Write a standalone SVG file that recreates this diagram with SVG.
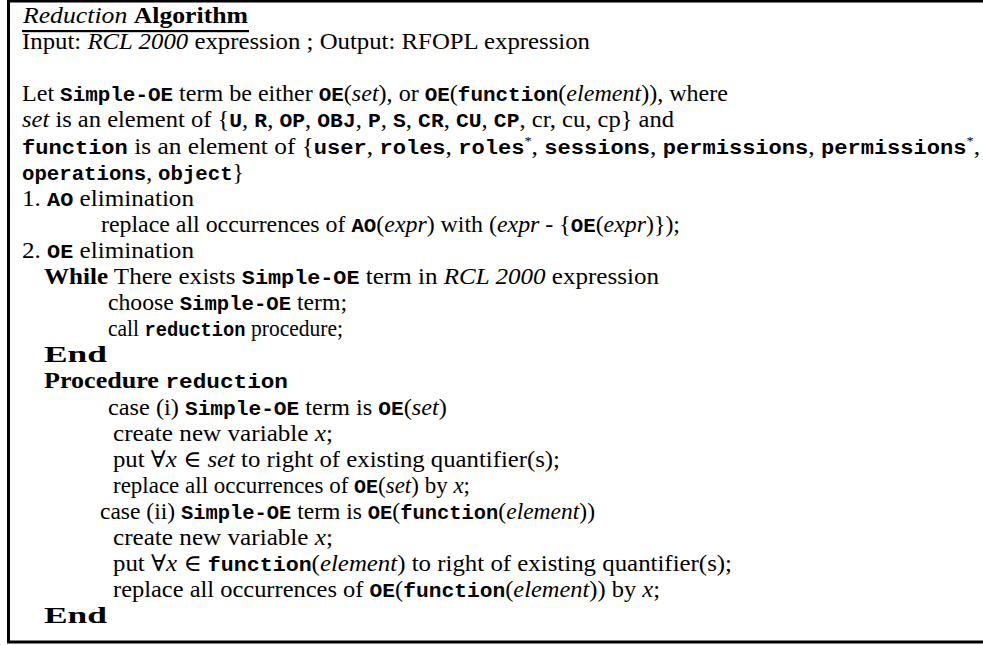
<svg xmlns="http://www.w3.org/2000/svg" width="983" height="645" viewBox="0 0 983 645">
<style>
text{font-family:"Liberation Serif","DejaVu Serif",serif;font-size:23px;fill:#000}
.i{font-style:italic}
.b{font-weight:bold}
.tt{font-family:"Liberation Mono","DejaVu Sans Mono",monospace;font-size:20px;font-weight:bold}
.sup{font-size:13px}
</style>
<rect x="8.5" y="1" width="1000" height="641" fill="#fff" stroke="#000" stroke-width="3"/>
<g id="title">
<text x="23" y="23" textLength="225" lengthAdjust="spacingAndGlyphs"><tspan class="i">Reduction</tspan> <tspan class="b">Algorithm</tspan></text>
<rect x="22" y="30" width="227" height="2.2" fill="#000"/>
<text x="22" y="49.1" textLength="568" lengthAdjust="spacingAndGlyphs">Input: <tspan class="i">RCL 2000</tspan> expression ; Output: RFOPL expression</text>
</g>
<g id="definitions">
<text x="22" y="101.3" textLength="706" lengthAdjust="spacingAndGlyphs">Let <tspan class="tt">Simple-OE</tspan> term be either <tspan class="tt">OE</tspan>(<tspan class="i">set</tspan>), or <tspan class="tt">OE</tspan>(<tspan class="tt">function</tspan>(<tspan class="i">element</tspan>)), where</text>
<text x="22" y="127.4" textLength="652" lengthAdjust="spacingAndGlyphs"><tspan class="i">set</tspan> is an element of {<tspan class="tt">U</tspan>, <tspan class="tt">R</tspan>, <tspan class="tt">OP</tspan>, <tspan class="tt">OBJ</tspan>, <tspan class="tt">P</tspan>, <tspan class="tt">S</tspan>, <tspan class="tt">CR</tspan>, <tspan class="tt">CU</tspan>, <tspan class="tt">CP</tspan>, cr, cu, cp} and</text>
<text x="22" y="153.5" textLength="958" lengthAdjust="spacingAndGlyphs"><tspan class="tt">function</tspan> is an element of {<tspan class="tt">user</tspan>, <tspan class="tt">roles</tspan>, <tspan class="tt">roles</tspan><tspan class="sup" dy="-9">*</tspan><tspan dy="9">,</tspan> <tspan class="tt">sessions</tspan>, <tspan class="tt">permissions</tspan>, <tspan class="tt">permissions</tspan><tspan class="sup" dy="-9">*</tspan><tspan dy="9">,</tspan></text>
<text x="22" y="179.6" textLength="222" lengthAdjust="spacingAndGlyphs"><tspan class="tt">operations</tspan>, <tspan class="tt">object</tspan>}</text>
</g>
<g id="step1">
<text x="22" y="205.7" textLength="172" lengthAdjust="spacingAndGlyphs">1. <tspan class="tt">AO</tspan> elimination</text>
<text x="101" y="231.8" textLength="579" lengthAdjust="spacingAndGlyphs">replace all occurrences of <tspan class="tt">AO</tspan>(<tspan class="i">expr</tspan>) with (<tspan class="i">expr</tspan> - {<tspan class="tt">OE</tspan>(<tspan class="i">expr</tspan>)});</text>
</g>
<g id="step2">
<text x="22" y="257.9" textLength="172" lengthAdjust="spacingAndGlyphs">2. <tspan class="tt">OE</tspan> elimination</text>
<text x="44" y="284" textLength="615" lengthAdjust="spacingAndGlyphs"><tspan class="b">While</tspan> There exists <tspan class="tt">Simple-OE</tspan> term in <tspan class="i">RCL 2000</tspan> expression</text>
<text x="108" y="310.1" textLength="239" lengthAdjust="spacingAndGlyphs">choose <tspan class="tt">Simple-OE</tspan> term;</text>
<text x="108" y="336.2" textLength="235" lengthAdjust="spacingAndGlyphs">call <tspan class="tt">reduction</tspan> procedure;</text>
<text x="44" y="362.3" textLength="63" lengthAdjust="spacingAndGlyphs" class="b">End</text>
</g>
<g id="procedure">
<text x="44" y="388.4" textLength="244" lengthAdjust="spacingAndGlyphs"><tspan class="b">Procedure</tspan> <tspan class="tt">reduction</tspan></text>
<text x="108" y="414.5" textLength="339" lengthAdjust="spacingAndGlyphs">case (i) <tspan class="tt">Simple-OE</tspan> term is <tspan class="tt">OE</tspan>(<tspan class="i">set</tspan>)</text>
<text x="113" y="440.6" textLength="220" lengthAdjust="spacingAndGlyphs">create new variable <tspan class="i">x</tspan>;</text>
<text x="113" y="466.7" textLength="447" lengthAdjust="spacingAndGlyphs">put ∀<tspan class="i">x</tspan> ∈ <tspan class="i">set</tspan> to right of existing quantifier(s);</text>
<text x="113" y="492.8" textLength="357" lengthAdjust="spacingAndGlyphs">replace all occurrences of <tspan class="tt">OE</tspan>(<tspan class="i">set</tspan>) by <tspan class="i">x</tspan>;</text>
<text x="100" y="518.9" textLength="495" lengthAdjust="spacingAndGlyphs">case (ii) <tspan class="tt">Simple-OE</tspan> term is <tspan class="tt">OE</tspan>(<tspan class="tt">function</tspan>(<tspan class="i">element</tspan>))</text>
<text x="113" y="545" textLength="220" lengthAdjust="spacingAndGlyphs">create new variable <tspan class="i">x</tspan>;</text>
<text x="113" y="571.1" textLength="619" lengthAdjust="spacingAndGlyphs">put ∀<tspan class="i">x</tspan> ∈ <tspan class="tt">function</tspan>(<tspan class="i">element</tspan>) to right of existing quantifier(s);</text>
<text x="113" y="597.2" textLength="547" lengthAdjust="spacingAndGlyphs">replace all occurrences of <tspan class="tt">OE</tspan>(<tspan class="tt">function</tspan>(<tspan class="i">element</tspan>)) by <tspan class="i">x</tspan>;</text>
<text x="44" y="623.3" textLength="63" lengthAdjust="spacingAndGlyphs" class="b">End</text>
</g>
</svg>
